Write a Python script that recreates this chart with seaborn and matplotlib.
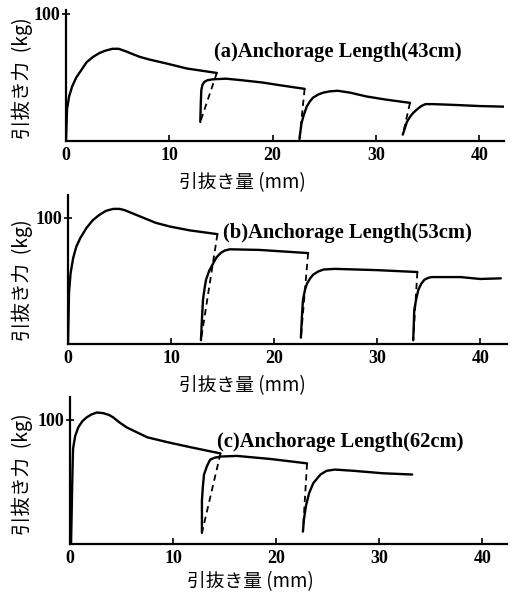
import numpy as np
import pandas as pd
import matplotlib
matplotlib.use("Agg")
import matplotlib.pyplot as plt
import seaborn as sns

# ---------------- data ----------------
# Panel (a) Anchorage length 43 cm : pull-out displacement (mm) vs pull-out force (kg)
a_seg1_x = [0.0, 0.1, 0.3, 0.6, 1.0, 1.5, 2.0, 2.6, 3.2, 3.8, 4.5, 5.1, 5.8, 6.4, 7.2, 8.1, 9.7, 11.7, 14.6]
a_seg1_y = [0, 25, 35, 43, 50, 56, 62, 66, 69, 71, 72.5, 72.5, 70.5, 68.5, 66, 64, 61, 57, 53.5]
a_seg2_x = [13.0, 13.05, 13.1, 13.2, 13.4, 13.7, 14.2, 15.5, 17.0, 19.0, 21.0, 23.1]
a_seg2_y = [15, 30, 40, 44, 46.5, 47.8, 48.5, 49, 47.8, 46, 43.5, 41]
a_seg3_x = [22.6, 22.7, 22.8, 23.0, 23.3, 23.6, 23.9, 24.4, 24.9, 25.5, 26.3, 27.5, 29.1, 31.0, 33.3]
a_seg3_y = [1.5, 8, 14, 20, 27, 31, 34, 36.5, 38, 39, 39.5, 38, 35, 32.5, 30]
a_seg4_x = [32.6, 32.8, 33.0, 33.3, 33.6, 34.0, 34.4, 34.8, 35.5, 37.2, 40.0, 42.4]
a_seg4_y = [5, 10, 15, 19, 22, 25, 27.5, 29, 29, 28.5, 27.5, 27]

# Panel (b) Anchorage length 53 cm
b_seg1_x = [0.0, 0.05, 0.1, 0.25, 0.5, 0.8, 1.2, 1.8, 2.4, 3.0, 3.7, 4.4, 5.0, 5.5, 6.4, 7.3, 8.5, 9.9, 11.8, 14.5]
b_seg1_y = [0, 20, 41, 56, 68, 77, 84, 92, 98, 102, 105.5, 107, 107, 106, 103, 100, 96, 93, 90, 87]
b_seg2_x = [12.9, 13.0, 13.1, 13.25, 13.4, 13.7, 14.1, 14.4, 14.8, 15.2, 15.7, 18.6, 23.3]
b_seg2_y = [3, 20, 35, 44, 51, 58, 64, 68.5, 72, 74, 75, 74.5, 72]
b_seg3_x = [22.6, 22.7, 22.8, 23.0, 23.2, 23.5, 23.8, 24.3, 24.8, 25.9, 30.0, 33.9]
b_seg3_y = [5, 22, 35, 43, 48, 52, 55, 57.5, 59, 59.5, 58.5, 57]
b_seg4_x = [33.5, 33.55, 33.6, 33.8, 34.0, 34.3, 34.6, 35.0, 35.3, 38.1, 40.0, 42.0]
b_seg4_y = [3, 15, 27, 36, 43, 48, 51, 52.5, 53, 53, 51.5, 52]

# Panel (c) Anchorage length 62 cm
c_seg1_x = [0.1, 0.15, 0.2, 0.25, 0.3, 0.5, 0.8, 1.2, 1.6, 2.1, 2.6, 3.2, 3.8, 4.2, 4.8, 5.5, 6.5, 7.5, 9.5, 11.7, 14.6]
c_seg1_y = [0, 20, 42, 62, 77, 87, 94, 99, 102, 104.5, 106, 105.5, 104, 102, 98, 94, 90, 86, 82, 78, 73]
c_seg2_x = [12.8, 12.8, 12.8, 12.9, 13.0, 13.3, 13.6, 14.0, 14.6, 16.2, 19.5, 23.0]
c_seg2_y = [9, 22, 35, 47, 56, 63, 68, 69.5, 70.5, 71, 68.5, 65]
c_seg3_x = [22.6, 22.7, 22.9, 23.2, 23.6, 24.0, 24.3, 24.9, 25.7, 27.5, 30.4, 33.2]
c_seg3_y = [10, 20, 31, 41, 49, 53, 56, 59, 60, 59, 57, 56]

panel_labels = ["(a)Anchorage Length(43cm)",
                "(b)Anchorage Length(53cm)",
                "(c)Anchorage Length(62cm)"]
x_ticks = [0, 10, 20, 30, 40]
x_tick_labels = ["0", "10", "20", "30", "40"]
y_ticks = [100]
y_tick_labels = ["100"]
x_label = "引抜き量 (mm)"
y_label = "引抜き力  (kg)"

panels = [
    [(a_seg1_x, a_seg1_y), (a_seg2_x, a_seg2_y), (a_seg3_x, a_seg3_y), (a_seg4_x, a_seg4_y)],
    [(b_seg1_x, b_seg1_y), (b_seg2_x, b_seg2_y), (b_seg3_x, b_seg3_y), (b_seg4_x, b_seg4_y)],
    [(c_seg1_x, c_seg1_y), (c_seg2_x, c_seg2_y), (c_seg3_x, c_seg3_y)],
]

# ---------------- style ----------------
sns.set_theme(style="ticks")
plt.rcParams['font.family'] = ['Noto Sans CJK JP', 'DejaVu Sans']

W, H = 516, 597
fig = plt.figure(figsize=(W / 100, H / 100), dpi=100)

# axes rectangles in pixel coordinates: left, right, bottom(y px), top(y px)
rects = [(66, 504, 141, 10), (68, 507, 344, 195), (70, 507, 544, 397)]
ylims = [103, 118, 118.5]
xlims = [42.4, 42.6, 42.4]
label_pos = [(14.3, 70), (15.0, 88), (14.3, 82)]
ylabel_y = [78, 280, 474]
xlabel_pos = [(242, 183), (242, 386), (250, 582)]

serif = ['Liberation Serif', 'DejaVu Serif']

for i, segs in enumerate(panels):
    l, r, b, t = rects[i]
    ax = fig.add_axes([l / W, 1 - b / H, (r - l) / W, (b - t) / H])
    # solid loading curves
    for sx, sy in segs:
        df = pd.DataFrame({"x": sx, "y": sy})
        sns.lineplot(data=df, x="x", y="y", ax=ax, sort=False, estimator=None,
                     color="black", linewidth=1.7)
    # dashed unloading lines: end of one curve to start of the next
    for (sx, sy), (nx, ny) in zip(segs[:-1], segs[1:]):
        df = pd.DataFrame({"x": [sx[-1], nx[0]], "y": [sy[-1], ny[0]]})
        sns.lineplot(data=df, x="x", y="y", ax=ax, sort=False, estimator=None,
                     color="black", linewidth=1.3, linestyle=(0, (3.5, 2.5)))
    ax.set_xlim(0, xlims[i])
    ax.set_ylim(0, ylims[i])
    for s in ["top", "right"]:
        ax.spines[s].set_visible(False)
    for s in ["left", "bottom"]:
        ax.spines[s].set_linewidth(1.6)
        ax.spines[s].set_color("black")
    ax.set_xticks(x_ticks)
    ax.set_xticklabels(x_tick_labels, family=serif, fontweight="bold", fontsize=13)
    ax.set_yticks(y_ticks)
    ax.set_yticklabels(y_tick_labels, family=serif, fontweight="bold", fontsize=13)
    ax.tick_params(axis="x", direction="in", length=4, width=1.2, pad=4, colors="black")
    ax.tick_params(axis="y", direction="inout", length=6, width=1.2, pad=1, colors="black")
    ax.set_xlabel("")
    ax.set_ylabel("")
    ax.text(label_pos[i][0], label_pos[i][1], panel_labels[i], family=serif,
            fontweight="bold", fontsize=14.8, ha="left", va="center", color="black")
    fig.text(22 / W, 1 - ylabel_y[i] / H, y_label, rotation=90, ha="center", va="center",
             fontsize=14, color="black")
    fig.text(xlabel_pos[i][0] / W, 1 - xlabel_pos[i][1] / H, x_label, ha="center",
             va="center", fontsize=13.5, color="black")

fig.savefig("out.png", dpi=100, facecolor="white")
